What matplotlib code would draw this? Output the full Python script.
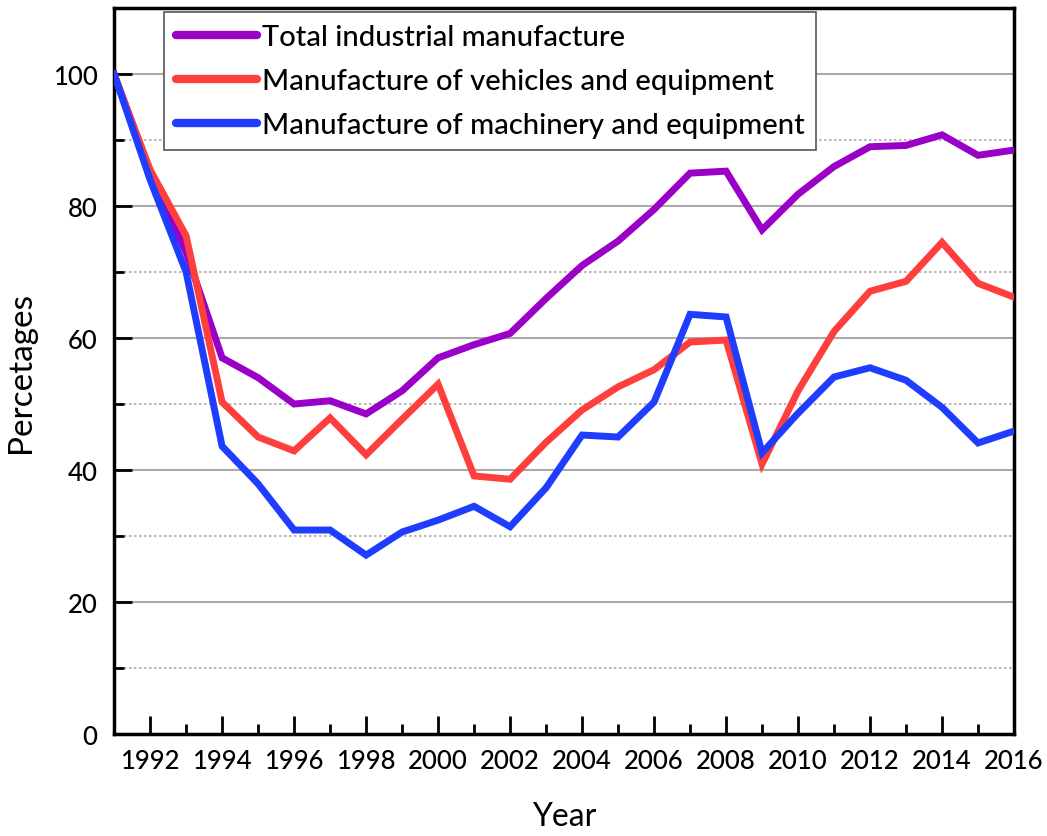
import matplotlib
matplotlib.use("Agg")
import matplotlib.pyplot as plt
from matplotlib.ticker import MultipleLocator

years = list(range(1991, 2017))

total_industrial = [100, 85, 73, 57, 54, 50, 50.5, 48.5, 52, 57, 59, 60.7, 66,
                    71, 74.7, 79.5, 85, 85.3, 76.4, 81.8, 86, 89, 89.2, 90.8, 87.7, 88.5]
vehicles = [100, 85.5, 75.5, 50.3, 45, 42.9, 47.9, 42.3, 47.7, 53, 39.1, 38.6, 44.2,
            49.1, 52.6, 55.2, 59.4, 59.7, 40.9, 52, 61, 67.1, 68.6, 74.5, 68.3, 66.2]
machinery = [100, 84, 70, 43.6, 37.9, 30.9, 30.9, 27.1, 30.6, 32.4, 34.5, 31.4, 37.3,
             45.3, 45, 50.3, 63.6, 63.2, 42.6, 48.6, 54.1, 55.5, 53.6, 49.5, 44.1, 45.9]

labels = ["Total industrial manufacture",
          "Manufacture of vehicles and equipment",
          "Manufacture of machinery and equipment"]
colors = ["#9A00C8", "#FF3E3E", "#1F3DFF"]

plt.rcParams["font.family"] = ["Lato", "DejaVu Sans"]
plt.rcParams["font.weight"] = "medium"

fig = plt.figure(figsize=(10.47, 8.37), dpi=100)
ax = fig.add_axes([0.109, 0.122, 0.8595, 0.867])

for series, label, color in zip([total_industrial, vehicles, machinery], labels, colors):
    ax.plot(years, series, color=color, lw=5, label=label, solid_joinstyle="miter", zorder=3)

ax.set_xlim(1991, 2016)
ax.set_ylim(0, 110)
ax.xaxis.set_minor_locator(MultipleLocator(1))
ax.set_xticks(list(range(1992, 2017, 2)))
ax.yaxis.set_major_locator(MultipleLocator(20))
ax.yaxis.set_minor_locator(MultipleLocator(10))

ax.tick_params(axis="both", which="major", direction="in", length=13, width=2,
               labelsize=18.5, pad=10)
ax.tick_params(axis="both", which="minor", direction="in", length=7, width=2)
ax.tick_params(axis="y", which="major", pad=12)

ax.grid(True, which="major", axis="y", color="#aaaaaa", lw=1.5, zorder=1)
ax.grid(True, which="minor", axis="y", color="#aaaaaa", lw=1.2, ls=(0, (1.5, 1.5)), zorder=1)
ax.set_axisbelow(True)

for sp in ax.spines.values():
    sp.set_linewidth(2.5)
    sp.set_color("black")

ax.set_xlabel("Year", fontsize=23, labelpad=20)
ax.set_ylabel("Percetages", fontsize=24, labelpad=12)

leg = ax.legend(loc="upper left", bbox_to_anchor=(0.0556, 0.9945), borderaxespad=0,
                fontsize=21, handlelength=2.8, frameon=True, fancybox=False,
                edgecolor="#555555", framealpha=1, borderpad=0.4, labelspacing=0.62,
                handletextpad=0.15)
leg.get_frame().set_linewidth(1.2)
for line in leg.get_lines():
    line.set_linewidth(6)
    line.set_solid_capstyle("round")

fig.savefig("out.png", dpi=100)
